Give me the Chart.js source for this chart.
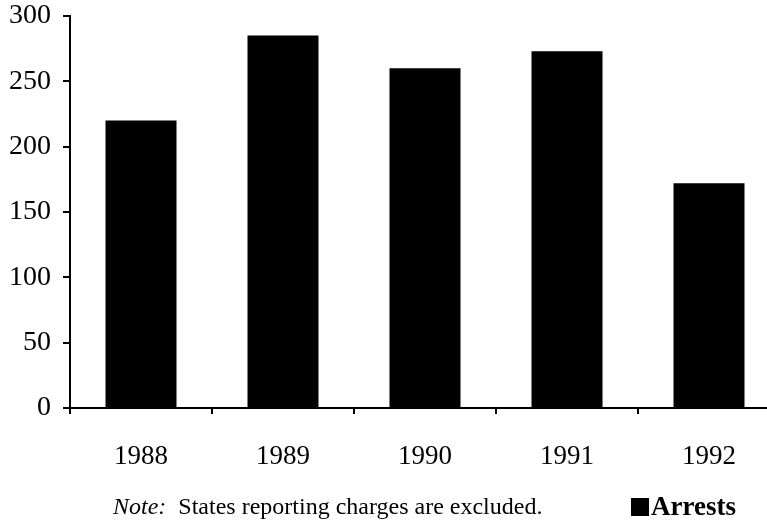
<!DOCTYPE html>
<html>
<head>
<meta charset="utf-8">
<script src="https://cdn.jsdelivr.net/npm/chart.js@4"></script>
<style>
  html, body { margin: 0; padding: 0; background: #fff; }
  #wrap { position: relative; width: 767px; height: 522px; overflow: hidden; }
  #box { position: absolute; left: 0; top: 0; width: 780px; height: 522px; }
  .txt { position: absolute; font-family: "Liberation Serif", "Times New Roman", serif; color: #000; white-space: nowrap; line-height: 1; }
  #note { left: 113px; top: 494px; font-size: 24px; }
  #legend { left: 631px; top: 493px; font-size: 27px; font-weight: bold; }
  #legend span { display: inline-block; width: 18px; height: 18px; background: #000; margin-right: 2px; vertical-align: -1px; }
</style>
</head>
<body>
<div id="wrap">
  <div id="box"><canvas id="arrestChart" width="780" height="522"></canvas></div>
  <div class="txt" id="note"><i>Note:</i>&nbsp; States reporting charges are excluded.</div>
  <div class="txt" id="legend"><span></span>Arrests</div>
</div>
<script>
// ===============================
// Chart data
// ===============================
const years = ["1988", "1989", "1990", "1991", "1992"];
const arrests = [220, 285, 260, 273, 172];
const yTicks = [0, 50, 100, 150, 200, 250, 300];

const serif = "'Liberation Serif', 'Times New Roman', serif";

const ctx = document.getElementById("arrestChart").getContext("2d");

new Chart(ctx, {
    type: "bar",
    data: {
        labels: years,
        datasets: [{
            label: "Arrests",
            data: arrests,
            backgroundColor: "#000",
            borderWidth: 0,
            categoryPercentage: 0.5,
            barPercentage: 1.0
        }]
    },
    options: {
        responsive: false,
        animation: false,
        devicePixelRatio: 1,
        layout: { padding: { left: 0, right: 0, top: 16, bottom: 0 } },
        plugins: {
            legend: { display: false },
            tooltip: { enabled: false }
        },
        scales: {
            x: {
                grid: { drawOnChartArea: false, drawTicks: true, tickLength: 6, color: "#000", lineWidth: 2 },
                border: { display: true, color: "#000", width: 2 },
                ticks: { color: "#000", font: { family: serif, size: 27 }, padding: 27, maxRotation: 0 },
                afterFit: (scale) => {
                    scale.height = 114;
                    scale.paddingLeft = 0;
                    scale.paddingRight = 0;
                }
            },
            y: {
                min: 0,
                max: 300,
                afterBuildTicks: (scale) => { scale.ticks = yTicks.map(v => ({ value: v })); },
                grid: { drawOnChartArea: false, drawTicks: true, tickLength: 7, color: "#000", lineWidth: 2 },
                border: { display: true, color: "#000", width: 2 },
                ticks: { color: "#000", font: { family: serif, size: 28 }, padding: 12 },
                afterFit: (scale) => {
                    scale.width = 70;
                    scale.paddingTop = 0;
                    scale.paddingBottom = 0;
                }
            }
        }
    }
});
</script>
</body>
</html>
